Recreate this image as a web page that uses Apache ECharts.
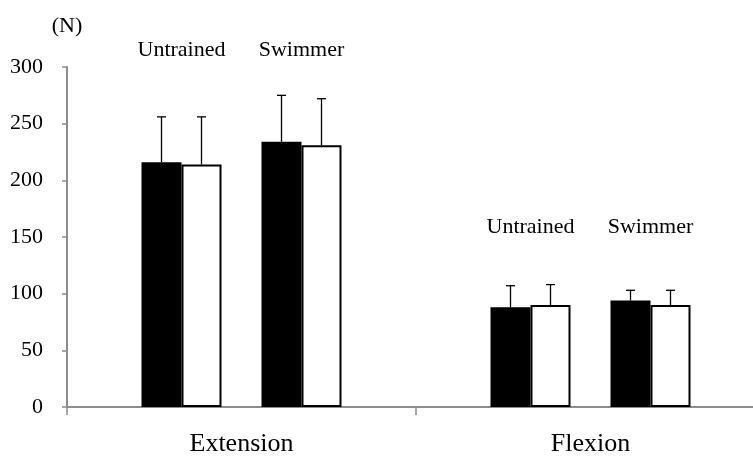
<!DOCTYPE html>
<html>
<head>
<meta charset="utf-8">
<script src="https://cdn.jsdelivr.net/npm/echarts@6/dist/echarts.min.js"></script>
<style>
  html, body { margin: 0; padding: 0; background: #fff; }
  #grafico { width: 753px; height: 456px; }
</style>
</head>
<body>
<div id="grafico"></div>
<script>
// Datos
const categorias = ['Extension', 'Flexion'];
const grupos = ['Untrained', 'Swimmer'];

// medias (N)
const untrainedNegro = [216, 88];
const untrainedBlanco = [214, 90];
const swimmerNegro = [234, 94];
const swimmerBlanco = [231, 90];

// desvio (solo hacia arriba)
const untrainedNegroSD = [40, 19];
const untrainedBlancoSD = [42, 18];
const swimmerNegroSD = [41, 9];
const swimmerBlancoSD = [41, 13];

// altura de las etiquetas de grupo (en N)
const alturaEtiquetas = [315, 159];

const ticksY = { min: 0, max: 300, interval: 50 };

const ANCHO_BARRA = 40;
const FUENTE = '"Liberation Serif", "Times New Roman", serif';

// orden de las barras dentro de cada categoria (el 2 es el hueco entre grupos)
const barras = [
    { datos: untrainedNegro, sd: untrainedNegroSD, slot: 0, negro: true },
    { datos: untrainedBlanco, sd: untrainedBlancoSD, slot: 1, negro: false },
    { datos: swimmerNegro, sd: swimmerNegroSD, slot: 3, negro: true },
    { datos: swimmerBlanco, sd: swimmerBlancoSD, slot: 4, negro: false }
];
const TOTAL_SLOTS = 5;

function offsetSlot(slot) {
    return (slot - (TOTAL_SLOTS - 1) / 2) * ANCHO_BARRA;
}

function serieBarra(b) {
    return {
        type: 'bar',
        barWidth: ANCHO_BARRA,
        barGap: '0%',
        data: b.datos,
        itemStyle: b.negro
            ? { color: '#000' }
            : { color: '#fff', borderColor: '#000', borderWidth: 2 },
        silent: true
    };
}

// datos de las barras de error
const datosError = [];
barras.forEach(b => {
    b.datos.forEach((v, i) => datosError.push([i, v, b.sd[i], b.slot]));
});

// datos de etiquetas de grupo
const datosEtiquetas = [];
categorias.forEach((c, i) => {
    grupos.forEach((g, j) => datosEtiquetas.push([i, alturaEtiquetas[i], j]));
});

function crearGrafico() {
    const series = [
        serieBarra(barras[0]),
        serieBarra(barras[1]),
        { type: 'bar', barWidth: ANCHO_BARRA, barGap: '0%', data: ['-', '-'], silent: true },
        serieBarra(barras[2]),
        serieBarra(barras[3]),
        {
            type: 'custom',
            silent: true,
            z: 5,
            data: datosError,
            encode: { x: 0, y: 1 },
            renderItem: function (params, api) {
                const base = api.coord([api.value(0), api.value(1)]);
                const arriba = api.coord([api.value(0), api.value(1) + api.value(2)]);
                const x = base[0] + offsetSlot(api.value(3));
                const estilo = { stroke: '#000', lineWidth: 1.3 };
                return {
                    type: 'group',
                    children: [
                        { type: 'line', shape: { x1: x, y1: base[1], x2: x, y2: arriba[1] }, style: estilo },
                        { type: 'line', shape: { x1: x - 4.5, y1: arriba[1], x2: x + 4.5, y2: arriba[1] }, style: estilo }
                    ]
                };
            }
        },
        {
            type: 'custom',
            silent: true,
            data: datosEtiquetas,
            encode: { x: 0, y: 1 },
            renderItem: function (params, api) {
                const p = api.coord([api.value(0), api.value(1)]);
                const g = api.value(2);
                // centro del par de barras del grupo
                const x = p[0] + (offsetSlot(g * 3) + offsetSlot(g * 3 + 1)) / 2;
                return {
                    type: 'text',
                    x: x,
                    y: p[1],
                    style: {
                        text: grupos[g],
                        font: '22px ' + FUENTE,
                        fill: '#000',
                        align: 'center',
                        verticalAlign: 'middle'
                    }
                };
            }
        }
    ];

    return {
        animation: false,
        grid: { left: 67, right: -12, top: 67, bottom: 49, outerBoundsMode: 'none' },
        xAxis: {
            type: 'category',
            data: categorias,
            axisLine: { lineStyle: { color: '#8c8c8c', width: 2 } },
            axisTick: { show: true, length: 8, lineStyle: { color: '#8c8c8c', width: 1.5 } },
            axisLabel: { color: '#000', fontSize: 26, fontFamily: FUENTE, margin: 24 },
            splitLine: { show: false }
        },
        yAxis: {
            type: 'value',
            min: ticksY.min,
            max: ticksY.max,
            interval: ticksY.interval,
            name: '(N)',
            nameLocation: 'end',
            nameGap: 30,
            nameTextStyle: { color: '#000', fontSize: 22, fontFamily: FUENTE, align: 'center' },
            axisLine: { show: true, lineStyle: { color: '#8c8c8c', width: 2 } },
            axisTick: { show: true, length: 5, lineStyle: { color: '#8c8c8c', width: 1.5 } },
            axisLabel: { color: '#000', fontSize: 22, fontFamily: FUENTE, margin: 24 },
            splitLine: { show: false }
        },
        series: series
    };
}

function iniciar() {
    const chartDom = document.getElementById('grafico');
    const myChart = echarts.init(chartDom, null, { renderer: 'canvas' });
    myChart.setOption(crearGrafico());
}

iniciar();
</script>
</body>
</html>
